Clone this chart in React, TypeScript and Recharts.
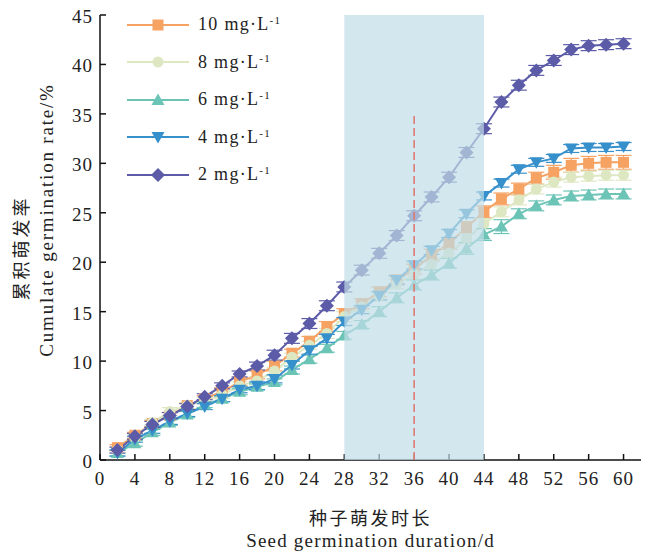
import React from "react";
import {
  LineChart,
  Line,
  XAxis,
  YAxis,
  ReferenceArea,
  ReferenceLine,
  ErrorBar,
} from "recharts";

// germination day
const days = [2, 4, 6, 8, 10, 12, 14, 16, 18, 20, 22, 24, 26, 28, 30, 32, 34, 36, 38, 40, 42, 44, 46, 48, 50, 52, 54, 56, 58, 60];

// cumulative germination rate (%) per concentration
const rate10 = [1.25, 2.5, 3.7, 4.5, 5.5, 6.2, 6.9, 7.9, 8.6, 9.5, 10.8, 12.0, 13.5, 14.8, 15.8, 17.0, 18.2, 19.3, 20.7, 21.9, 23.5, 25.1, 26.4, 27.4, 28.5, 29.1, 29.8, 30.0, 30.1, 30.1];
const rate8 = [1.0, 2.3, 3.8, 4.9, 5.5, 6.0, 6.6, 7.5, 8.0, 9.0, 10.4, 11.6, 12.8, 14.5, 15.5, 16.6, 17.8, 18.8, 19.8, 20.9, 22.4, 23.9, 25.1, 26.3, 27.4, 28.1, 28.6, 28.7, 28.8, 28.8];
const rate6 = [0.7, 1.7, 2.8, 3.8, 4.6, 5.6, 6.2, 6.9, 7.4, 7.9, 9.1, 10.2, 11.3, 12.6, 13.7, 15.0, 16.4, 17.7, 18.7, 19.9, 21.4, 22.8, 23.6, 24.9, 25.7, 26.3, 26.7, 26.8, 26.9, 26.9];
const rate4 = [0.7, 2.1, 3.0, 3.9, 4.7, 5.4, 6.2, 7.1, 7.5, 8.2, 9.6, 11.1, 12.3, 14.0, 15.2, 16.6, 18.2, 19.7, 21.2, 22.9, 24.9, 26.7, 28.0, 29.4, 30.1, 30.5, 31.5, 31.6, 31.6, 31.7];
const rate2 = [1.0, 2.4, 3.6, 4.5, 5.4, 6.4, 7.5, 8.7, 9.5, 10.6, 12.3, 13.8, 15.6, 17.5, 19.2, 20.9, 22.7, 24.7, 26.6, 28.6, 31.1, 33.5, 36.2, 37.9, 39.4, 40.4, 41.5, 41.9, 42.0, 42.1];

// standard errors (rough reading of the whiskers)
const err10 = [0.3, 0.3, 0.3, 0.3, 0.3, 0.3, 0.4, 0.4, 0.4, 0.5, 0.4, 0.5, 0.5, 0.5, 0.5, 0.5, 0.5, 0.5, 0.6, 0.6, 0.6, 0.6, 0.6, 0.6, 0.6, 0.7, 0.7, 0.7, 0.7, 0.7];
const err8 = [0.3, 0.3, 0.3, 0.4, 0.3, 0.3, 0.4, 0.4, 0.4, 0.4, 0.4, 0.4, 0.5, 0.5, 0.5, 0.5, 0.5, 0.5, 0.5, 0.5, 0.5, 0.5, 0.5, 0.5, 0.5, 0.5, 0.5, 0.5, 0.5, 0.5];
const err6 = [0.3, 0.3, 0.3, 0.3, 0.3, 0.3, 0.3, 0.3, 0.3, 0.3, 0.4, 0.4, 0.4, 0.4, 0.4, 0.5, 0.5, 0.5, 0.5, 0.5, 0.6, 0.6, 0.7, 0.5, 0.5, 0.5, 0.5, 0.5, 0.5, 0.5];
const err4 = [0.3, 0.3, 0.3, 0.3, 0.3, 0.3, 0.3, 0.3, 0.4, 0.4, 0.4, 0.4, 0.4, 0.4, 0.4, 0.4, 0.4, 0.4, 0.4, 0.4, 0.4, 0.4, 0.4, 0.4, 0.4, 0.4, 0.4, 0.4, 0.4, 0.4];
const err2 = [0.3, 0.3, 0.3, 0.3, 0.3, 0.3, 0.3, 0.3, 0.4, 0.5, 0.5, 0.5, 0.5, 0.5, 0.5, 0.5, 0.5, 0.5, 0.5, 0.5, 0.5, 0.5, 0.5, 0.5, 0.5, 0.5, 0.5, 0.5, 0.5, 0.5];

const xTicks = [0, 4, 8, 12, 16, 20, 24, 28, 32, 36, 40, 44, 48, 52, 56, 60];
const yTicks = [0, 5, 10, 15, 20, 25, 30, 35, 40, 45];

const series = [
  { key: "r10", err: "e10", label: "10", color: "#f5a263", shape: "square" },
  { key: "r8", err: "e8", label: "8", color: "#dde8c3", shape: "circle" },
  { key: "r6", err: "e6", label: "6", color: "#6cc4b6", shape: "up" },
  { key: "r4", err: "e4", label: "4", color: "#3690cb", shape: "down" },
  { key: "r2", err: "e2", label: "2", color: "#5b5ba8", shape: "diamond" },
];

const data = days.map((d, i) => ({
  day: d,
  r10: rate10[i],
  r8: rate8[i],
  r6: rate6[i],
  r4: rate4[i],
  r2: rate2[i],
  e10: err10[i],
  e8: err8[i],
  e6: err6[i],
  e4: err4[i],
  e2: err2[i],
}));

const SERIF = "Liberation Serif";
const CJK = "Noto Sans CJK SC";

function Marker({ cx, cy, shape, color }: { cx: number; cy: number; shape: string; color: string }) {
  if (cx == null || cy == null) return null;
  switch (shape) {
    case "square":
      return <rect x={cx - 5.5} y={cy - 5.5} width={11} height={11} fill={color} />;
    case "circle":
      return <circle cx={cx} cy={cy} r={5.5} fill={color} />;
    case "up":
      return <polygon points={`${cx},${cy - 6.5} ${cx + 6.5},${cy + 5} ${cx - 6.5},${cy + 5}`} fill={color} />;
    case "down":
      return <polygon points={`${cx},${cy + 6.5} ${cx + 6.5},${cy - 5} ${cx - 6.5},${cy - 5}`} fill={color} />;
    default:
      return <polygon points={`${cx},${cy - 7} ${cx + 7},${cy} ${cx},${cy + 7} ${cx - 7},${cy}`} fill={color} />;
  }
}

const ChartLegend = () => (
  <div style={{ position: "absolute", left: 127, top: 6, fontFamily: SERIF, fontSize: 18, color: "#222" }}>
    {series.map((s) => (
      <div key={s.key} style={{ display: "flex", alignItems: "center", height: 37.5 }}>
        <svg width={64} height={16} style={{ display: "block" }}>
          <line x1={0} y1={8} x2={62} y2={8} stroke={s.color} strokeWidth={2} />
          <Marker cx={31} cy={8} shape={s.shape} color={s.color} />
        </svg>
        <span style={{ marginLeft: 7, letterSpacing: 1.3, whiteSpace: "nowrap" }}>
          {s.label} mg·L<sup style={{ fontSize: 11, verticalAlign: "6px" }}>-1</sup>
        </span>
      </div>
    ))}
  </div>
);

const XTick = (props: any) => (
  <text x={props.x} y={props.y + 13} textAnchor="middle" fontFamily={SERIF} fontSize={19} fill="#222" letterSpacing={1}>
    {props.payload.value}
  </text>
);

const YTick = (props: any) => (
  <text x={props.x} y={props.y + 8} textAnchor="end" fontFamily={SERIF} fontSize={19} fill="#222" letterSpacing={1}>
    {props.payload.value}
  </text>
);

const XLabel = (props: any) => {
  const vb = props.viewBox || {};
  const cx = vb.x + vb.width / 2;
  return (
    <g>
      <text x={cx} y={525} textAnchor="middle" fontFamily={CJK} fontSize={18} letterSpacing={2.5} fill="#222">
        种子萌发时长
      </text>
      <text x={cx} y={547} textAnchor="middle" fontFamily={SERIF} fontSize={19} letterSpacing={1.2} fill="#222">
        Seed germination duration/d
      </text>
    </g>
  );
};

const YLabel = () => (
  <g>
    <text x={28} y={248} transform="rotate(-90 28 248)" textAnchor="middle" fontFamily={CJK} fontSize={18} letterSpacing={3} fill="#222">
      累积萌发率
    </text>
    <text x={53} y={220} transform="rotate(-90 53 220)" textAnchor="middle" fontFamily={SERIF} fontSize={19} letterSpacing={1.8} fill="#222">
      Cumulate germination rate/%
    </text>
  </g>
);

export default function App() {
  return (
    <div style={{ position: "absolute", left: 0, top: 0, width: 648, height: 552, background: "#fff" }}>
      <LineChart width={648} height={552} data={data} margin={{ top: 15, right: 7, bottom: 62, left: 40 }}>
        <XAxis
          dataKey="day"
          type="number"
          domain={[0, 62]}
          ticks={xTicks}
          allowDataOverflow
          axisLine={{ stroke: "#111", strokeWidth: 1.5 }}
          tickLine={{ stroke: "#111", strokeWidth: 1.5 }}
          tickSize={-6}
          tickMargin={18}
          height={30}
          tick={<XTick />}
          label={{ content: XLabel }}
        />
        <YAxis
          type="number"
          domain={[0, 45]}
          ticks={yTicks}
          width={60}
          axisLine={{ stroke: "#111", strokeWidth: 1.5 }}
          tickLine={{ stroke: "#111", strokeWidth: 1.5 }}
          tickSize={-6}
          tickMargin={13}
          tick={<YTick />}
          label={{ content: YLabel }}
        />
        {series.map((s) => (
          <Line
            key={s.key}
            dataKey={s.key}
            stroke={s.color}
            strokeWidth={2}
            isAnimationActive={false}
            activeDot={false}
            dot={(p: any) => <Marker key={`${s.key}-${p.index}`} cx={p.cx} cy={p.cy} shape={s.shape} color={s.color} />}
          >
            <ErrorBar dataKey={s.err} width={8} strokeWidth={1.2} stroke={s.color} direction="y" />
          </Line>
        ))}
        <ReferenceArea x1={28} x2={44} y1={0} y2={45} fill="#c0dde7" fillOpacity={0.7} stroke="none" zIndex={1000} />
        <ReferenceLine
          segment={[{ x: 36, y: 0 }, { x: 36, y: 35 }]}
          stroke="#e0736d"
          strokeWidth={1.5}
          strokeDasharray="8 4"
          zIndex={1100}
        />
      </LineChart>
      <ChartLegend />
    </div>
  );
}
